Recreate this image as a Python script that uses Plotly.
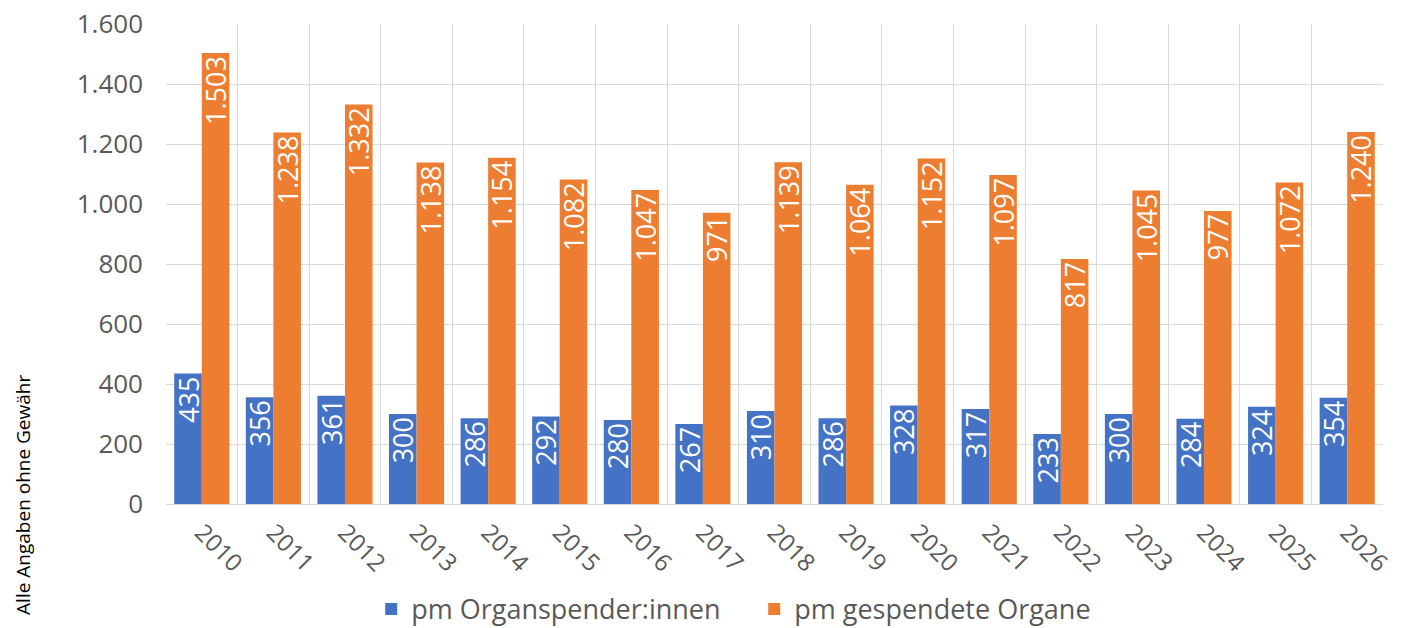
import plotly.graph_objects as go

years = ["2010", "2011", "2012", "2013", "2014", "2015", "2016", "2017", "2018",
         "2019", "2020", "2021", "2022", "2023", "2024", "2025", "2026"]
spender = [435, 356, 361, 300, 286, 292, 280, 267, 310, 286, 328, 317, 233, 300, 284, 324, 354]
organe = [1503, 1238, 1332, 1138, 1154, 1082, 1047, 971, 1139, 1064, 1152, 1097, 817, 1045, 977, 1072, 1240]

FONT = "Open Sans"
blue = "#4472C4"
orange = "#ED7D31"

def fmt(v):
    return f"{v:,}".replace(",", ".")

fig = go.Figure()
for name, vals, col in [("pm Organspender:innen", spender, blue),
                        ("pm gespendete Organe", organe, orange)]:
    fig.add_trace(go.Bar(
        x=years, y=vals, name=name, marker=dict(color=col, line=dict(width=0)),
        text=[fmt(v) for v in vals], textposition="inside", insidetextanchor="end",
        textangle=-90, constraintext="none",
        textfont=dict(family=FONT, size=27, color="white"),
    ))

fig.update_layout(
    width=1400, height=620,
    margin=dict(l=158, r=25, t=16, b=124, autoexpand=False),
    barmode="group", bargap=0.23, bargroupgap=0,
    plot_bgcolor="white", paper_bgcolor="white",
    separators=",.",
    font=dict(family=FONT, size=25, color="#595959"),
    uniformtext=dict(minsize=27, mode="show"),
    legend=dict(orientation="h", xref="container", x=0.533, xanchor="center",
                yref="container", y=0.03, yanchor="middle",
                font=dict(family=FONT, size=27, color="#595959"),
                traceorder="normal", itemwidth=30,
                entrywidth=338, entrywidthmode="pixels"),
    xaxis=dict(type="category", tickson="boundaries", showgrid=True, gridcolor="#D9D9D9",
               gridwidth=1, tickangle=45, ticks="", showline=True, linecolor="#D9D9D9",
               automargin=False, ticklabelstandoff=4,
               tickfont=dict(family=FONT, size=24, color="#595959")),
    yaxis=dict(range=[0, 1600], dtick=200, tickformat=",d", showgrid=True, gridcolor="#D9D9D9",
               gridwidth=1, zeroline=False, showline=False, ticks="", automargin=False,
               ticklabelstandoff=22, ticklabeloverflow="allow",
               tickfont=dict(family=FONT, size=26, color="#595959")),
    annotations=[dict(text="Alle Angaben ohne Gewähr", xref="paper", yref="paper",
                      x=-0.1298, y=0.019, textangle=-90, showarrow=False,
                      xanchor="left", yanchor="middle",
                      font=dict(family=FONT, size=19, color="#000000"))],
)

fig.write_html("out.html")
